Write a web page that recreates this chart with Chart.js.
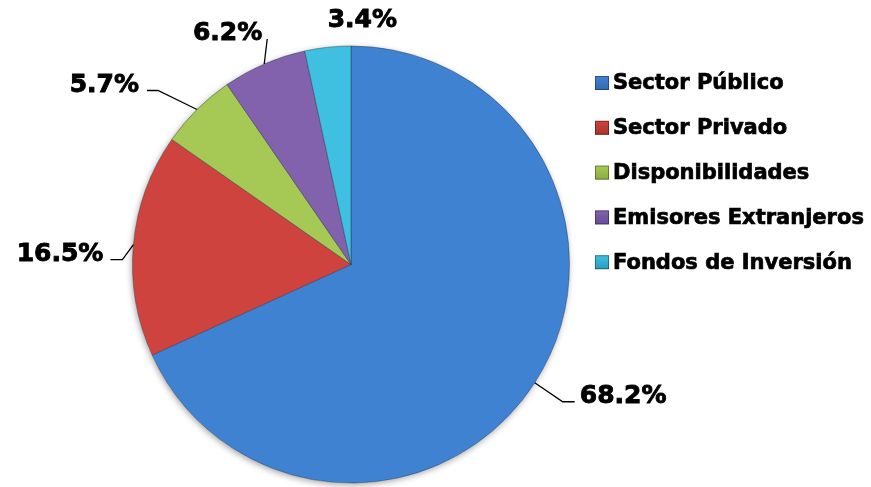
<!DOCTYPE html>
<html>
<head>
<meta charset="utf-8">
<script src="https://cdn.jsdelivr.net/npm/chart.js@4"></script>
<style>
  html, body { margin:0; padding:0; background:#fff; }
  #wrap { width:871px; height:487px; position:relative; }
</style>
</head>
<body>
<div id="wrap"><canvas id="pieChart"></canvas></div>
<script>
var labels = ['Sector Público', 'Sector Privado', 'Disponibilidades', 'Emisores Extranjeros', 'Fondos de Inversión'];
var values = [68.2, 16.5, 5.7, 6.2, 3.4];
var valueLabels = ['68.2%', '16.5%', '5.7%', '6.2%', '3.4%'];

// light (center) / dark (edge) tones of each slice
var colorsLight = ['#4082d2', '#cf433e', '#a6c955', '#8262ad', '#3fc0e0'];
var colorsDark  = ['#3369b2', '#a8342e', '#8aac42', '#684c95', '#2c9dbd'];

// where each data label goes, relative to the point on the pie edge
// elbow / end of the leader line, then text side
var labelPlace = [
  {elbow:[28,19],  end:[40,19],  side:'left',  gap:5},
  {elbow:[-11,15], end:[-23,15], side:'right', gap:7},
  {elbow:[-39,-19],end:[-50,-19],side:'right', gap:8},
  {elbow:null,     end:[3,-25],  side:'right', gap:5},
  {elbow:null,     end:null,     side:'left',  text:[0,-20]}
];

var LABEL_FONT = 'bold 25px "DejaVu Sans", Verdana, sans-serif';
var LEGEND_FONT = 'bold 21px "DejaVu Sans", Verdana, sans-serif';

function sliceFill(ctx){
  var i = ctx.dataIndex;
  var chart = ctx.chart;
  var meta = chart.getDatasetMeta(0);
  var arc = meta.data[i];
  if(!chart.chartArea || !arc || !arc.outerRadius) return colorsLight[i];
  var g = chart.ctx.createRadialGradient(arc.x, arc.y, 0, arc.x, arc.y, arc.outerRadius);
  g.addColorStop(0, colorsLight[i]);
  g.addColorStop(0.85, colorsLight[i]);
  g.addColorStop(1, colorsDark[i]);
  return g;
}

// heavier text, the reference font is blacker than DejaVu bold
function boldText(c, txt, x, y){
  c.fillText(txt, x, y);
  c.strokeText(txt, x, y);
}

var pieShadow = {
  id: 'pieShadow',
  beforeDatasetsDraw: function(chart){
    var arc = chart.getDatasetMeta(0).data[0];
    if(!arc) return;
    var c = chart.ctx;
    c.save();
    c.shadowColor = 'rgba(0,0,0,0.35)';
    c.shadowBlur = 6;
    c.shadowOffsetX = -1;
    c.shadowOffsetY = 2;
    c.fillStyle = '#ffffff';
    c.beginPath();
    c.arc(arc.x, arc.y, arc.outerRadius, 0, Math.PI*2);
    c.fill();
    c.restore();
  }
};

var pieLabels = {
  id: 'pieLabels',
  afterDatasetsDraw: function(chart){
    var c = chart.ctx;
    var arcs = chart.getDatasetMeta(0).data;
    c.save();
    c.font = LABEL_FONT;
    c.fillStyle = '#000';
    c.strokeStyle = '#000';
    c.textBaseline = 'alphabetic';
    for(var i = 0; i < arcs.length; i++){
      var a = arcs[i];
      var mid = (a.startAngle + a.endAngle) / 2;
      var ax = a.x + Math.cos(mid) * a.outerRadius;
      var ay = a.y + Math.sin(mid) * a.outerRadius;
      var p = labelPlace[i];
      var tx, ty;
      if(p.end){
        c.lineWidth = 1.3;
        c.beginPath();
        c.moveTo(ax, ay);
        if(p.elbow) c.lineTo(ax + p.elbow[0], ay + p.elbow[1]);
        c.lineTo(ax + p.end[0], ay + p.end[1]);
        c.stroke();
        ty = ay + p.end[1] + 1;
        tx = p.side == 'left' ? ax + p.end[0] + p.gap : ax + p.end[0] - p.gap;
      }
      else{
        tx = ax + p.text[0];
        ty = ay + p.text[1];
      }
      c.textAlign = p.side;
      c.lineWidth = 0.9;
      boldText(c, valueLabels[i], tx, ty);
    }
    c.restore();
  }
};

var sideLegend = {
  id: 'sideLegend',
  afterDraw: function(chart){
    var c = chart.ctx;
    var x = 595, y0 = 83, step = 44.8, box = 14;
    c.save();
    c.font = LEGEND_FONT;
    c.textBaseline = 'middle';
    c.textAlign = 'left';
    for(var i = 0; i < labels.length; i++){
      var y = y0 + i * step;
      var g = c.createLinearGradient(x, y - box/2, x, y + box/2);
      g.addColorStop(0, colorsLight[i]);
      g.addColorStop(1, colorsDark[i]);
      c.fillStyle = g;
      c.fillRect(x, y - box/2, box, box);
      c.strokeStyle = 'rgba(0,0,0,0.35)';
      c.lineWidth = 1;
      c.strokeRect(x + 0.5, y - box/2 + 0.5, box - 1, box - 1);
      c.fillStyle = '#000';
      c.strokeStyle = '#000';
      c.lineWidth = 0.7;
      boldText(c, labels[i], x + box + 4, y + 1);
    }
    c.restore();
  }
};

new Chart(document.getElementById('pieChart'), {
  type: 'pie',
  data: {
    labels: labels,
    datasets: [{
      data: values,
      backgroundColor: sliceFill,
      borderColor: 'rgba(40,50,70,0.45)',
      borderWidth: 1,
      hoverOffset: 0
    }]
  },
  options: {
    responsive: true,
    maintainAspectRatio: false,
    animation: false,
    layout: { padding: { left: 132, right: 301, top: 45, bottom: 3 } },
    plugins: {
      legend: { display: false },
      tooltip: { enabled: false }
    }
  },
  plugins: [pieShadow, pieLabels, sideLegend]
});
</script>
</body>
</html>
